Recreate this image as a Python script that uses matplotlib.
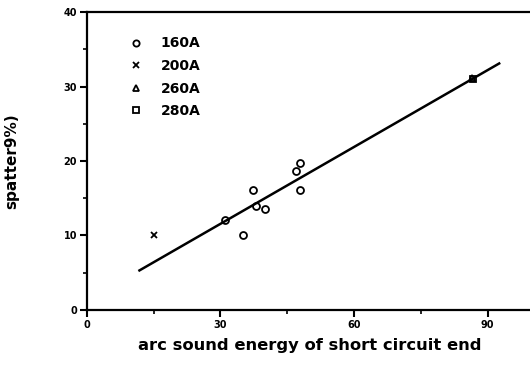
import numpy as np
import matplotlib.pyplot as plt

# data
x160 = [31, 35, 37.4, 37.9, 40, 47, 47.9, 47.9]
y160 = [12.1, 10.0, 16.1, 14.0, 13.6, 18.7, 19.7, 16.1]
x200 = [15]
y200 = [10]
x260 = [86.5]
y260 = [31.1]
x280 = [86.8]
y280 = [31.0]

# fitted line
fit_x = [11.8, 92.6]
slope, intercept = 0.344, 1.24

plt.rcParams['font.family'] = ['DejaVu Sans']
plt.rcParams['font.weight'] = 'bold'

fig = plt.figure(figsize=(5.3, 3.65), dpi=100)
ax = fig.add_axes([0.164, 0.151, 0.84, 0.816])

kw = dict(linestyle='none', color='black', mfc='none', ms=5, mew=1.3)
ax.plot(x160, y160, 'o', label='160A', **kw)
ax.plot(x200, y200, 'x', label='200A', **kw)
ax.plot(x260, y260, '^', label='260A', **kw)
ax.plot(x280, y280, 's', label='280A', **kw)
fx = np.array(fit_x)
ax.plot(fx, slope * fx + intercept, 'k-', lw=1.8)

ax.set_xlim(0, 100)
ax.set_ylim(0, 40)
ax.set_xticks([0, 30, 60, 90])
ax.set_xticks([15, 45, 75], minor=True)
ax.set_yticks([0, 10, 20, 30, 40])
ax.set_yticks([5, 15, 25, 35], minor=True)
ax.tick_params(which='major', length=5, width=1.5, labelsize=7, pad=2)
ax.tick_params(which='minor', length=3, width=1.2)
for s in ax.spines.values():
    s.set_linewidth(1.6)
ax.spines['right'].set_visible(False)  # cut off in the original

ax.set_xlabel('arc sound energy of short circuit end', fontsize=11.8, fontweight='bold', labelpad=6)
ax.set_ylabel('spatter9%)', fontsize=11, fontweight='bold', labelpad=32)

leg = ax.legend(loc='upper left', bbox_to_anchor=(0.05, 0.96), frameon=False,
                fontsize=10, handletextpad=0.8, labelspacing=0.62, markerscale=0.9)
for t in leg.get_texts():
    t.set_fontweight('bold')

plt.savefig('out.png', dpi=100)
